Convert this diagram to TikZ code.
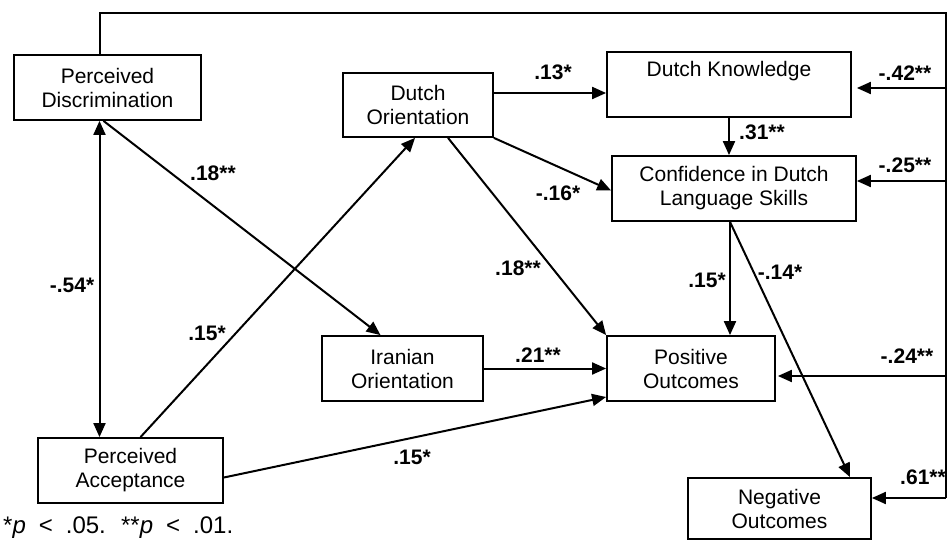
\documentclass[tikz,border=0pt]{standalone}
\usepackage{fontspec}
\setmainfont{Liberation Sans}
\usetikzlibrary{arrows.meta,calc}

\tikzset{
  var/.style={draw, line width=1.8pt, align=center, inner sep=0pt,
    font=\fontsize{21}{24}\selectfont},
  coef/.style={font=\fontsize{21}{24}\selectfont\bfseries, inner sep=0pt},
  path/.style={line width=2pt, -{Triangle[length=14pt,width=12pt]}},
  link/.style={line width=2pt}
}

\begin{document}
\begin{tikzpicture}[x=1pt, y=-1pt]
\useasboundingbox (0,0) rectangle (948,548);

% variables
\node (disc) at (107.5, 87.5) [var, minimum width=187pt, minimum height=65pt] {Perceived\\Discrimination};
\node (dorient) at (418, 105) [var, minimum width=150pt, minimum height=64pt] {Dutch\\Orientation};
\node (dknow) at (729, 84.5) [var, minimum width=244pt, minimum height=65pt] {Dutch Knowledge\\\strut};
\node (conf) at (734, 188.5) [var, minimum width=244pt, minimum height=65pt] {Confidence in Dutch\\Language Skills};
\node (iran) at (402.5, 368.5) [var, minimum width=161pt, minimum height=65pt] {Iranian\\Orientation};
\node (pos) at (691, 368.5) [var, minimum width=168pt, minimum height=65pt] {Positive\\Outcomes};
\node (neg) at (779.5, 508.5) [var, minimum width=183pt, minimum height=61pt] {Negative\\Outcomes};
\node (acc) at (130.5, 470.5) [var, minimum width=185pt, minimum height=65pt] {Perceived\\Acceptance};

\coordinate (frameTR) at (946, 13);
\coordinate (frameBR) at (946, 498);

% paths
\draw[path, {Triangle[length=14pt,width=12pt]}-{Triangle[length=14pt,width=12pt]}]
  ([xshift=-8pt]disc.south) -- ([xshift=-8pt]disc.south |- acc.north);
\draw[path] ([xshift=-4pt]disc.south) -- ([xshift=-22pt]iran.north);
\draw[path] ([xshift=10pt]acc.north) -- ([xshift=-3pt]dorient.south);
\draw[path] ([yshift=-7pt]acc.east) -- ([yshift=-28.5pt]pos.west);
\draw[path] (iran.east) -- (pos.west);
\draw[path] ([yshift=12pt]dorient.east) -- ([yshift=12pt]dorient.east -| dknow.west);
\draw[path] (dorient.south east) -- ([yshift=-2pt]conf.west);
\draw[path] ([xshift=30pt]dorient.south) -- (pos.north west);
\draw[path] (dknow.south) -- (dknow.south |- conf.north);
\draw[path] ([xshift=-4pt]conf.south) -- ([xshift=-4pt]conf.south |- pos.north);
\draw[path] ([xshift=-4pt]conf.south) -- ([xshift=70.5pt]neg.north);

% discrimination to the outcomes
\draw[link] ([xshift=-8pt]disc.north) |- (frameTR) -- (frameBR);
\draw[path] ([yshift=-3.5pt]dknow.east -| frameTR) -- ([shift={(5pt,-3.5pt)}]dknow.east);
\draw[path] ([yshift=7.5pt]conf.east -| frameTR) -- ([yshift=7.5pt]conf.east);
\draw[path] ([yshift=-7.5pt]pos.east -| frameTR) -- ([shift={(2pt,-7.5pt)}]pos.east);
\draw[path] (frameBR) -- (frameBR -| neg.east);

% coefficients
\node (c1) at (213, 173) [coef] {.18**};
\node (c2) at (72, 285) [coef] {-.54*};
\node (c3) at (207, 333) [coef] {.15*};
\node (c4) at (412, 457) [coef] {.15*};
\node (c5) at (538, 355) [coef] {.21**};
\node (c6) at (553, 72) [coef] {.13*};
\node (c7) at (558, 193) [coef] {-.16*};
\node (c8) at (518, 268) [coef] {.18**};
\node (c9) at (762, 132) [coef] {.31**};
\node (c10) at (707, 280) [coef] {.15*};
\node (c11) at (780, 272) [coef] {-.14*};
\node (c12) at (905, 73) [coef] {-.42**};
\node (c13) at (905, 165) [coef] {-.25**};
\node (c14) at (907, 356) [coef] {-.24**};
\node (c15) at (923, 477) [coef] {.61**};

\node (note) at (3, 528) [anchor=west, inner sep=0pt, font=\fontsize{24}{28}\selectfont]
  {\spaceskip=13pt *\textit{p} < .05. **\textit{p} < .01.};
\end{tikzpicture}
\end{document}
